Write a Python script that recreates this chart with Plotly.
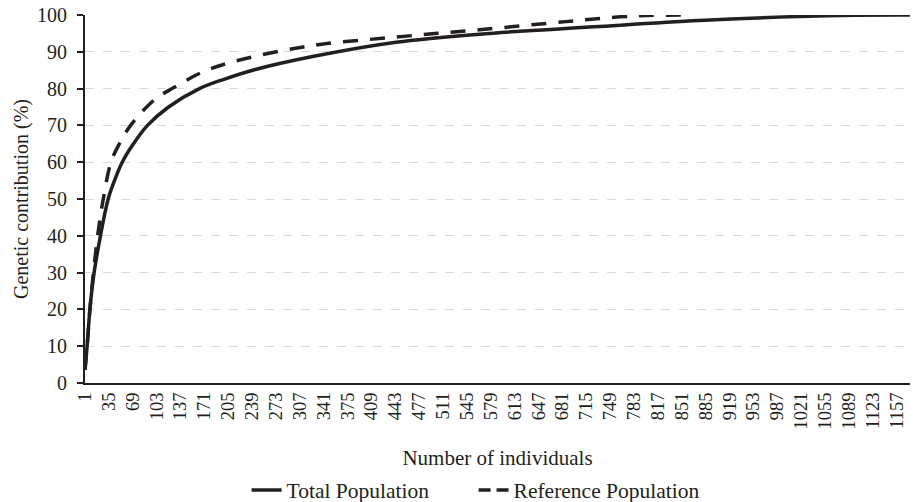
import plotly.graph_objects as go

# Values (number of individuals, cumulative genetic contribution %)
total_n = [1, 4, 8, 14, 23, 34, 43, 54, 70, 90, 120, 164, 200, 240, 325, 444, 563, 727, 876, 1018, 1100, 1176]
total_v = [3.6, 10, 20, 30, 40, 50, 55, 60, 65, 70, 75, 80, 82.6, 85.0, 88.7, 92.6, 94.8, 96.8, 98.5, 99.6, 99.95, 100]

ref_n = [1, 4, 8, 13, 19, 27, 38, 50, 66, 100, 127, 165, 210, 321, 444, 563, 686, 763, 810, 851]
ref_v = [3.6, 10, 20, 30, 40, 50, 60, 65, 70, 77, 80.2, 84.2, 87.2, 91.6, 94.0, 96.0, 98.2, 99.5, 99.9, 100]

tick_vals = list(range(1, 1158, 34))
tick_text = [str(v) for v in tick_vals]

FONT = "Liberation Serif"
INK = "#231f20"

fig = go.Figure()
fig.add_trace(go.Scatter(
    x=total_n, y=total_v, mode="lines", name="Total Population",
    line=dict(color=INK, width=3.5, shape="spline", smoothing=1.0),
))
fig.add_trace(go.Scatter(
    x=ref_n, y=ref_v, mode="lines", name="Reference Population", showlegend=False,
    line=dict(color=INK, width=3.5, shape="spline", smoothing=1.0, dash="15px,12px"),
))
# legend entry for the dashed series (same style, shorter dash so two dashes fit the sample)
fig.add_trace(go.Scatter(
    x=[None], y=[None], mode="lines", name="Reference Population",
    line=dict(color=INK, width=3.5, dash="12px,6px"),
))

H = 514  # page is shown vertically squeezed to 502 px
fig.update_layout(
    width=913, height=H,
    margin=dict(l=85, r=3, t=15, b=122),
    paper_bgcolor="white", plot_bgcolor="white",
    font=dict(family=FONT, size=20, color=INK),
    showlegend=True,
    legend=dict(orientation="h", x=0.471, xanchor="center", y=-0.291, yanchor="middle",
                font=dict(size=21.5), entrywidth=182, entrywidthmode="pixels",
                tracegroupgap=0, bgcolor="rgba(0,0,0,0)"),
    xaxis=dict(
        range=[1, 1176], tickmode="array", tickvals=tick_vals, ticktext=tick_text,
        tickangle=-90, tickfont=dict(size=18.5), showgrid=False, zeroline=False,
        showline=True, linecolor=INK, linewidth=2, ticks="", automargin=False,
        title=dict(text="Number of individuals", font=dict(size=21), standoff=22),
    ),
    yaxis=dict(
        range=[0, 100], tickmode="array", tickvals=list(range(0, 101, 10)),
        showgrid=True, gridcolor="#d9d9d9", griddash="dash", gridwidth=1.2,
        zeroline=False, showline=True, linecolor=INK, linewidth=2,
        ticks="outside", ticklen=6, tickcolor=INK, tickwidth=1.5,
        tickfont=dict(size=20), automargin=False, ticklabelstandoff=6,
        title=dict(text="Genetic contribution (%)", font=dict(size=20), standoff=3),
    ),
)

POST = (
    "var d=document.getElementsByClassName('plotly-graph-div')[0];"
    "d.style.position='fixed';d.style.top='0px';d.style.left='0px';"
    "document.body.style.margin='0';document.body.style.height='0';"
    "document.documentElement.style.overflow='hidden';"
)

fig.write_html("out.html", config={"displayModeBar": False}, post_script=POST)
